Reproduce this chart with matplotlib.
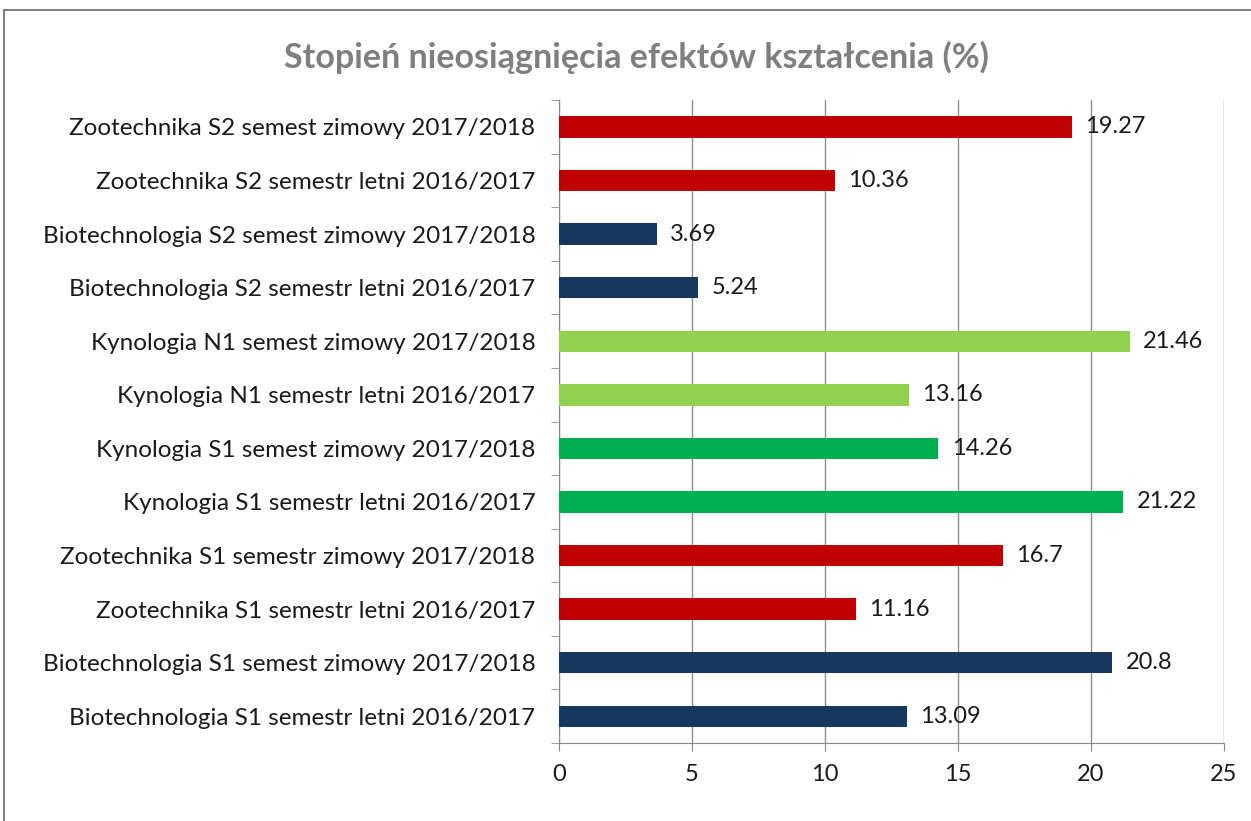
import numpy as np
import matplotlib.pyplot as plt
from matplotlib.lines import Line2D

labels = [
    "Biotechnologia S1 semestr letni 2016/2017",
    "Biotechnologia S1 semest zimowy 2017/2018",
    "Zootechnika S1 semestr letni 2016/2017",
    "Zootechnika S1 semestr zimowy 2017/2018",
    "Kynologia S1 semestr letni 2016/2017",
    "Kynologia S1 semest zimowy 2017/2018",
    "Kynologia N1 semestr letni 2016/2017",
    "Kynologia N1 semest zimowy 2017/2018",
    "Biotechnologia S2 semestr letni 2016/2017",
    "Biotechnologia S2 semest zimowy 2017/2018",
    "Zootechnika S2 semestr letni 2016/2017",
    "Zootechnika S2 semest zimowy 2017/2018",
]
values = [13.09, 20.8, 11.16, 16.7, 21.22, 14.26, 13.16, 21.46, 5.24, 3.69, 10.36, 19.27]
groups = ["bio", "bio", "zoo", "zoo", "kyn_s", "kyn_s", "kyn_n", "kyn_n", "bio", "bio", "zoo", "zoo"]
group_colors = {"bio": "#17375E", "zoo": "#C00000", "kyn_s": "#00B050", "kyn_n": "#92D050"}

plt.rcParams['font.family'] = ['Lato', 'DejaVu Sans']

fig = plt.figure(figsize=(12.51, 8.21), dpi=100)
ax = fig.add_axes([0.4468, 0.095, 0.5316, 0.783])

y = np.arange(len(values))
ax.barh(y, values, height=0.4, color=[group_colors[g] for g in groups], zorder=3)
for yi, v in zip(y, values):
    ax.text(v + 0.5, yi, f"{v:g}", va='center', ha='left', fontsize=17, color='#1a1a1a')

ax.set_xlim(0, 25)
ax.set_ylim(-0.5, len(values) - 0.5)
ax.set_xticks(np.arange(0, 26, 5))
ax.set_yticks(y)
ax.set_yticklabels(labels)
ax.set_yticks(np.arange(-0.5, len(values), 1), minor=True)
ax.tick_params(axis='y', which='major', length=0, labelsize=17.5, pad=17, labelcolor='#1a1a1a')
ax.tick_params(axis='y', which='minor', length=6, color='#888888')
ax.tick_params(axis='x', length=6, color='#888888', labelsize=17, pad=9, labelcolor='#1a1a1a')
ax.grid(axis='x', color='#8c8c8c', linewidth=1, zorder=0)
for s in ['top', 'right']:
    ax.spines[s].set_visible(False)
for s in ['left', 'bottom']:
    ax.spines[s].set_color('#888888')

fig.text(0.509, 0.93, "Stopień nieosiągnięcia efektów kształcenia (%)", ha='center', va='center',
         fontsize=24.5, fontweight='bold', color='#7f7f7f')

fig.add_artist(Line2D([0.003, 1.0], [0.988, 0.988], transform=fig.transFigure, color='#808080', linewidth=1.5))
fig.add_artist(Line2D([0.003, 0.003], [0.0, 0.988], transform=fig.transFigure, color='#808080', linewidth=1.5))

fig.savefig("out.png", dpi=100)
